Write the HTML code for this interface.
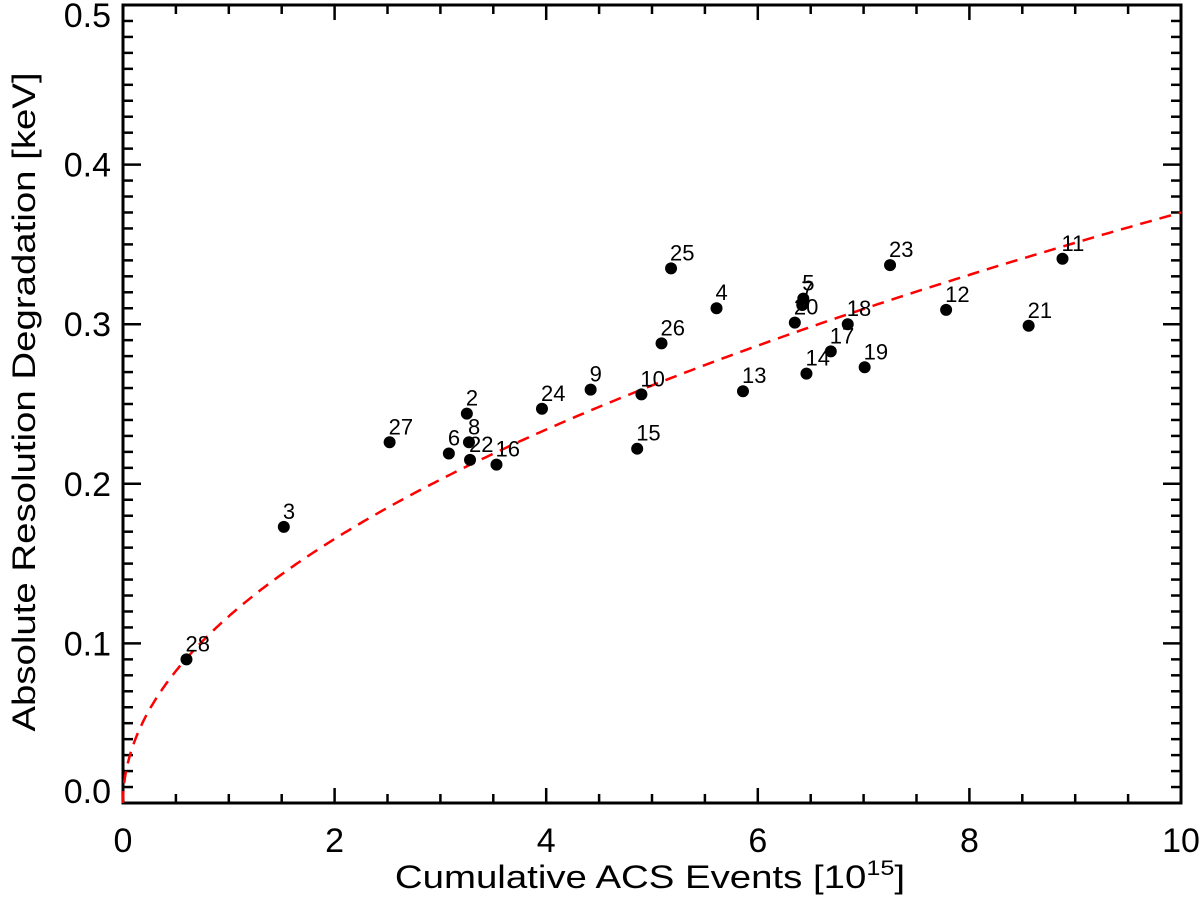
<!DOCTYPE html>
<html><head><meta charset="utf-8"><style>
body{margin:0;background:#fff;}
svg{display:block;font-family:"Liberation Sans",sans-serif;}
</style></head><body>
<svg id="chart" width="1200" height="902" viewBox="0 0 1200 902" xmlns="http://www.w3.org/2000/svg"></svg>
<script>
const ids = ["28","3","27","6","2","8","22","16","24","9","10","15","26","25","4","13","20","5","7","14","17","18","19","23","12","21","11"];
const xs = [0.60,1.52,2.52,3.08,3.25,3.27,3.28,3.53,3.96,4.42,4.90,4.86,5.09,5.18,5.61,5.86,6.35,6.43,6.42,6.46,6.69,6.85,7.01,7.25,7.78,8.56,8.88];
const ys = [0.090,0.173,0.226,0.219,0.244,0.226,0.215,0.212,0.247,0.259,0.256,0.222,0.288,0.335,0.310,0.258,0.301,0.316,0.312,0.269,0.283,0.300,0.273,0.337,0.309,0.299,0.341];
const fitA = 0.117;
const fitB = 0.5;
const xTicks = [0,2,4,6,8,10];
const xTickLabels = ["0","2","4","6","8","10"];
const yTicks = [0,0.1,0.2,0.3,0.4,0.5];
const yTickLabels = ["0.0","0.1","0.2","0.3","0.4","0.5"];

const NS="http://www.w3.org/2000/svg";
const svg=document.getElementById('chart');
const L=123,R=1181,T=5,B=803;
const sx=v=>L+(v-0)/(10-0)*(R-L);
const sy=v=>B-(v-0)/(0.5-0)*(B-T);
function mk(tag,attrs,parent){const e=document.createElementNS(NS,tag);for(const k in attrs)e.setAttribute(k,attrs[k]);(parent||svg).appendChild(e);return e;}

const frame=mk('rect',{x:L,y:T,width:R-L,height:B-T,fill:'none',stroke:'#000','stroke-width':3});



const tg=mk('g',{stroke:'#000','stroke-width':2.5});


for(let i=0;i<=20;i++){const v=i*0.5;const major=i%4===0;const len=major?15:9;const x=sx(v);
  mk('line',{x1:x,y1:B,x2:x,y2:B-len},tg);mk('line',{x1:x,y1:T,x2:x,y2:T+len},tg);}
for(let i=0;i<=50;i++){const v=i*0.01;const major=i%10===0;const len=major?18:10;const y=sy(v);
  mk('line',{x1:L,y1:y,x2:L+len,y2:y},tg);mk('line',{x1:R,y1:y,x2:R-len,y2:y},tg);}

xTicks.forEach((v,i)=>{const t=mk('text',{x:sx(v),y:B+49,'font-size':34,'text-anchor':'middle'});t.textContent=xTickLabels[i];
  
  });
yTicks.forEach((v,i)=>{const off=(i===0)?0:(i===yTicks.length-1?22:12);
  const t=mk('text',{x:L-12,y:sy(v)+off,'font-size':34,'text-anchor':'end'});t.textContent=yTickLabels[i];
  
  });

const xt=mk('text',{x:0,y:0,'font-size':32,'text-anchor':'middle',transform:'translate(650,888) scale(1.2,1)'});
xt.innerHTML='Cumulative ACS Events [10<tspan font-size="21" dy="-13">15</tspan><tspan dy="13">]</tspan>';


const yt=mk('text',{x:0,y:0,'font-size':32,'text-anchor':'middle',transform:'translate(35,402) rotate(-90) scale(1.2,1)'});
yt.textContent='Absolute Resolution Degradation [keV]';



let d='';for(let i=0;i<=400;i++){const v=10*Math.pow(i/400,2);const px=sx(v),py=sy(fitA*Math.pow(v,fitB));d+=(i?'L':'M')+px.toFixed(1)+' '+py.toFixed(1);}
const fit=mk('path',{d:d,fill:'none',stroke:'#ff0000','stroke-width':2.5,'stroke-dasharray':'12 8'});



xs.forEach((v,i)=>{const c=mk('circle',{cx:sx(v),cy:sy(ys[i]),r:6,fill:'#000'});
  
  
  const t=mk('text',{x:sx(v)-1,y:sy(ys[i])-8,'font-size':22});t.textContent=ids[i];
  
  });
</script>
</body></html>
